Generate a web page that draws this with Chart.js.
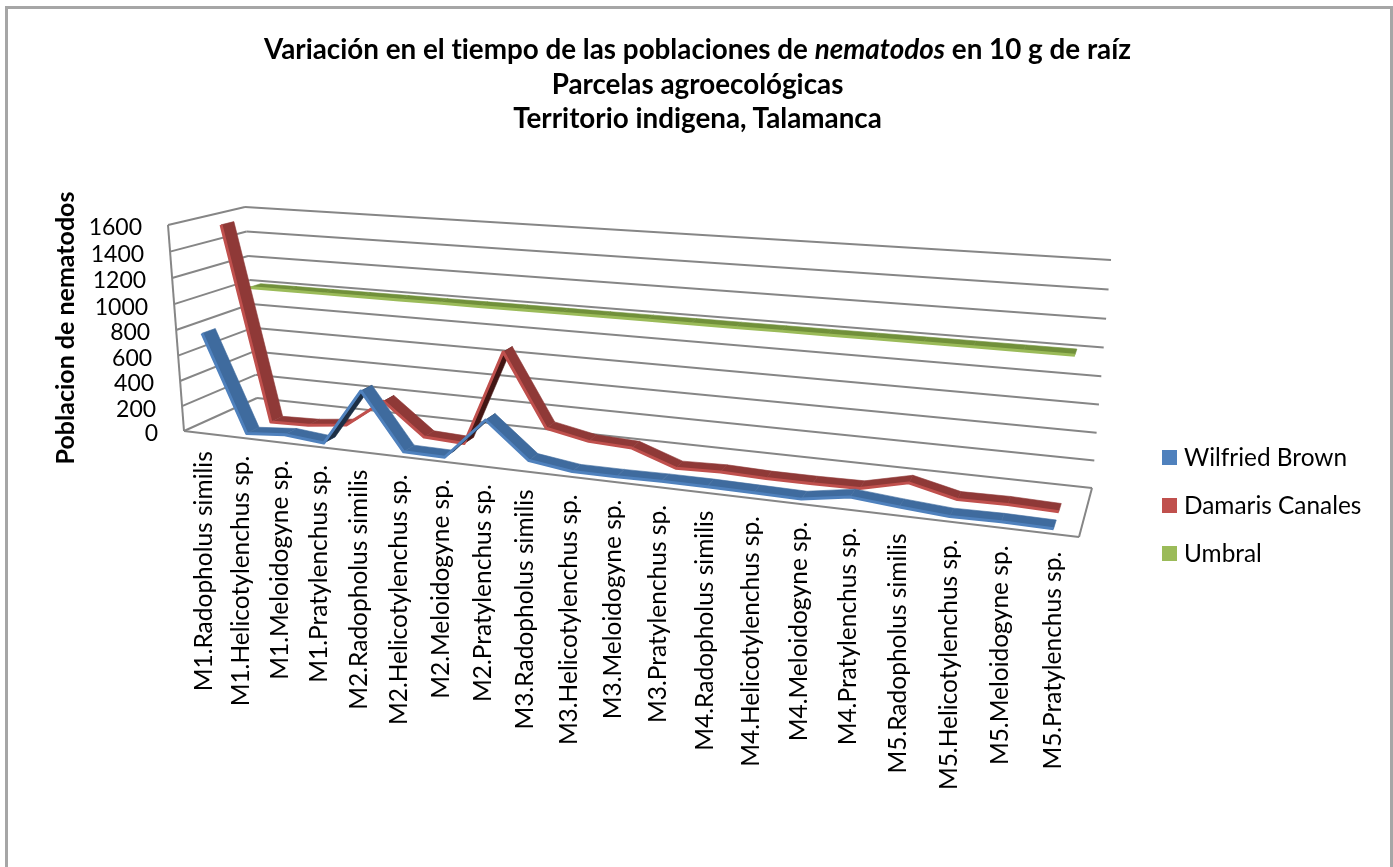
<!DOCTYPE html>
<html lang="es">
<head>
    <meta charset="UTF-8">
    <title>Variación en el tiempo de las poblaciones de nematodos</title>
    <script src="https://cdn.jsdelivr.net/npm/chart.js"></script>
    <style>
        html, body { margin: 0; padding: 0; background: #fff; overflow: hidden; }
        .wrap { position: relative; width: 1393px; height: 867px; font-family: Lato, sans-serif; color: #000; }
        .frame { position: absolute; left: 5px; top: 6px; width: 1382px; height: 900px; border: 3px solid #a6a6a6; }
        #chart { position: absolute; left: 0; top: 0; }
        .title { position: absolute; left: 0; width: 1393px; top: 32px; text-align: center; font-weight: bold; font-size: 27.8px; line-height: 34.5px; margin: 0; margin-left: 1px; font-variant-ligatures: none; }
    </style>
</head>
<body>
    <div class="wrap">
        <div class="frame"></div>
        <canvas id="chart" width="1393" height="867"></canvas>
        <h1 class="title">Variación en el tiempo de las poblaciones de <em>nematodos</em> en 10 g de raíz<br>Parcelas agroecológicas<br>Territorio indigena, Talamanca</h1>
    </div>

    <script>
        const categories = [
            'M1.Radopholus similis', 'M1.Helicotylenchus sp.', 'M1.Meloidogyne sp.', 'M1.Pratylenchus sp.',
            'M2.Radopholus similis', 'M2.Helicotylenchus sp.', 'M2.Meloidogyne sp.', 'M2.Pratylenchus sp.',
            'M3.Radopholus similis', 'M3.Helicotylenchus sp.', 'M3.Meloidogyne sp.', 'M3.Pratylenchus sp.',
            'M4.Radopholus similis', 'M4.Helicotylenchus sp.', 'M4.Meloidogyne sp.', 'M4.Pratylenchus sp.',
            'M5.Radopholus similis', 'M5.Helicotylenchus sp.', 'M5.Meloidogyne sp.', 'M5.Pratylenchus sp.'
        ];
        const wilfriedBrown = [770, 10, 35, 5, 445, 10, 5, 325, 55, 10, 10, 15, 15, 10, 5, 60, 30, 5, 10, 5];
        const damarisCanales = [1550, 5, 15, 50, 275, 25, 10, 750, 200, 135, 120, 5, 15, 5, 5, 10, 90, 10, 15, 5];
        const umbral = [1000, 1000, 1000, 1000, 1000, 1000, 1000, 1000, 1000, 1000, 1000, 1000, 1000, 1000, 1000, 1000, 1000, 1000, 1000, 1000];
        const yAxisMax = 1600;
        const yAxisStep = 200;
        const yAxisTitle = 'Poblacion de nematodos';

        // corners of the 3D box as seen on the page: bottom-left, bottom-right, top-right, top-left
        const backWall = [[257, 398], [1092, 488], [1111, 260], [245, 207]];
        const frontWall = [[184, 431], [1079, 537], [1102, 292], [168, 225]];

        // unit square -> quad (perspective)
        function quadMap(q) {
            const [p0, p1, p2, p3] = q;
            const sx = p0[0] - p1[0] + p2[0] - p3[0], sy = p0[1] - p1[1] + p2[1] - p3[1];
            const dx1 = p1[0] - p2[0], dx2 = p3[0] - p2[0], dy1 = p1[1] - p2[1], dy2 = p3[1] - p2[1];
            const den = dx1 * dy2 - dx2 * dy1;
            const g = (sx * dy2 - dx2 * sy) / den, h = (dx1 * sy - sx * dy1) / den;
            const a = p1[0] - p0[0] + g * p1[0], b = p3[0] - p0[0] + h * p3[0];
            const d = p1[1] - p0[1] + g * p1[1], e = p3[1] - p0[1] + h * p3[1];
            return (u, v) => {
                const z = g * u + h * v + 1;
                return [(a * u + b * v + p0[0]) / z, (d * u + e * v + p0[1]) / z];
            };
        }
        const mapBack = quadMap(backWall);
        const mapFront = quadMap(frontWall);

        // w = 0 on the front wall, w = 1 on the back wall
        function project(u, v, w) {
            const f = mapFront(u, v), b = mapBack(u, v);
            return [f[0] + (b[0] - f[0]) * w, f[1] + (b[1] - f[1]) * w];
        }

        // depth slot of each series in the box, and its ribbon colours
        const looks = [
            { w0: 0.09, w1: 0.27, top: '#3f6b9e', under: '#1d2f45', edge: '#4f81bd' },
            { w0: 0.44, w1: 0.61, top: '#8f3937', under: '#431614', edge: '#c0504d' },
            { w0: 0.75, w1: 0.91, top: '#71903a', under: '#4a5f22', edge: '#9bbb59' }
        ];

        const box3d = {
            id: 'box3d',
            afterDatasetsUpdate(chart) {
                const area = chart.chartArea;
                chart.data.datasets.forEach((ds, i) => {
                    const meta = chart.getDatasetMeta(i);
                    meta.data.forEach(p => {
                        const u = (p.x - area.left) / area.width;
                        const v = (area.bottom - p.y) / area.height;
                        p.$uv = [u, v];
                        const xy = project(u, v, looks[i].w0);
                        p.x = xy[0];
                        p.y = xy[1];
                    });
                });
            },
            beforeDatasetsDraw(chart) {
                const ctx = chart.ctx, area = chart.chartArea;
                const yScale = chart.scales.y, xScale = chart.scales.x;
                const line = (a, b) => { ctx.beginPath(); ctx.moveTo(a[0], a[1]); ctx.lineTo(b[0], b[1]); ctx.stroke(); };
                ctx.save();
                ctx.strokeStyle = '#868686';
                ctx.lineWidth = 2;
                // walls
                yScale.ticks.forEach(t => {
                    const v = (area.bottom - yScale.getPixelForValue(t.value)) / area.height;
                    line(project(0, v, 0), project(0, v, 1));
                    line(project(0, v, 1), project(1, v, 1));
                });
                // floor and front corner
                line(project(0, 0, 0), project(1, 0, 0));
                line(project(1, 0, 0), project(1, 0, 1));
                line(project(0, 0, 0), project(0, 1, 0));
                // y tick labels
                ctx.fillStyle = '#000';
                ctx.font = '23px Lato';
                ctx.textAlign = 'right';
                ctx.textBaseline = 'middle';
                yScale.ticks.forEach(t => {
                    const v = (area.bottom - yScale.getPixelForValue(t.value)) / area.height;
                    const p = project(0, v, 0);
                    ctx.fillText(String(t.value), p[0] - 26, p[1] + 3);
                });
                // x tick labels
                ctx.font = '24.5px Lato';
                categories.forEach((c, i) => {
                    const u = (xScale.getPixelForValue(i) - area.left) / area.width;
                    const p = project(u, 0, 0);
                    ctx.save();
                    ctx.translate(p[0] + 1, p[1] + 18);
                    ctx.rotate(-Math.PI / 2);
                    ctx.fillText(c, 0, 0);
                    ctx.restore();
                });
                // y axis title
                ctx.save();
                ctx.font = 'bold 25px Lato';
                ctx.textAlign = 'center';
                ctx.translate(66, 328);
                ctx.rotate(-Math.PI / 2);
                ctx.fillText(yAxisTitle, 0, 0);
                ctx.restore();
                // legend
                ctx.font = '24.4px Lato';
                ctx.textAlign = 'left';
                chart.data.datasets.forEach((ds, i) => {
                    const y = 457.5 + i * 48;
                    ctx.fillStyle = ds.borderColor;
                    ctx.fillRect(1162, y - 7.5, 15, 15);
                    ctx.fillStyle = '#000';
                    ctx.fillText(ds.label, 1184, y + 1);
                });
                ctx.restore();
            },
            // the dark top and underside of the ribbon; the library then strokes the light front edge
            beforeDatasetDraw(chart, args) {
                const ctx = chart.ctx, look = looks[args.index], pts = args.meta.data;
                ctx.save();
                ctx.lineWidth = 0.6;
                ctx.lineJoin = 'round';
                for (let i = 0; i < pts.length - 1; i++) {
                    const a = pts[i].$uv, b = pts[i + 1].$uv;
                    const q = [project(a[0], a[1], look.w0), project(b[0], b[1], look.w0), project(b[0], b[1], look.w1), project(a[0], a[1], look.w1)];
                    const turn = (q[1][0] - q[0][0]) * (q[3][1] - q[0][1]) - (q[1][1] - q[0][1]) * (q[3][0] - q[0][0]);
                    ctx.fillStyle = ctx.strokeStyle = turn < 0 ? look.top : look.under;
                    ctx.beginPath();
                    q.forEach((p, k) => k ? ctx.lineTo(p[0], p[1]) : ctx.moveTo(p[0], p[1]));
                    ctx.closePath();
                    ctx.fill();
                    ctx.stroke();
                }
                ctx.restore();
            }
        };

        new Chart(document.getElementById('chart').getContext('2d'), {
            type: 'line',
            data: {
                labels: categories,
                datasets: [
                    { label: 'Wilfried Brown', data: wilfriedBrown, borderColor: '#4f81bd', backgroundColor: '#4f81bd' },
                    { label: 'Damaris Canales', data: damarisCanales, borderColor: '#c0504d', backgroundColor: '#c0504d' },
                    { label: 'Umbral', data: umbral, borderColor: '#9bbb59', backgroundColor: '#9bbb59' }
                ]
            },
            options: {
                responsive: false,
                animation: false,
                events: [],
                clip: false,
                elements: {
                    point: { radius: 0 },
                    line: { borderWidth: 3, tension: 0, borderJoinStyle: 'round', borderCapStyle: 'butt' }
                },
                plugins: { legend: { display: false }, title: { display: false }, tooltip: { enabled: false } },
                scales: {
                    x: { display: false, offset: true },
                    y: { display: false, min: 0, max: yAxisMax, ticks: { stepSize: yAxisStep } }
                }
            },
            plugins: [box3d]
        });
    </script>
</body>
</html>
